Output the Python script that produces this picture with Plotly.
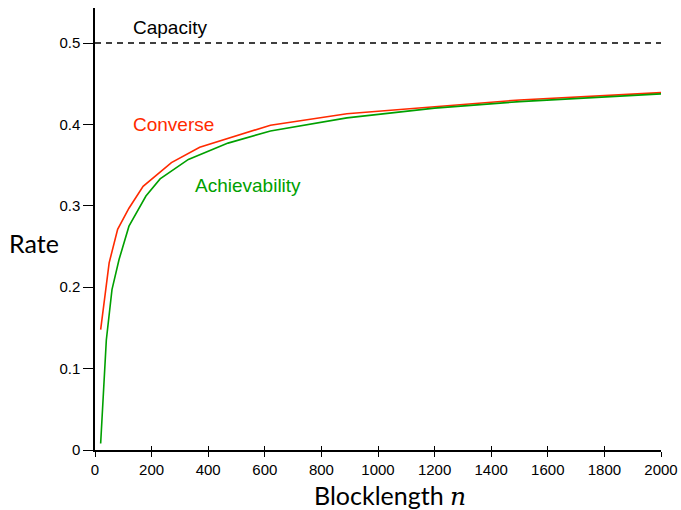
import plotly.graph_objects as go

# Data
n_converse = [20, 50, 80, 120, 170, 270, 370, 620, 890, 1200, 1500, 2000]
rate_converse = [0.148, 0.230, 0.271, 0.297, 0.324, 0.353, 0.372, 0.399, 0.413, 0.422, 0.430, 0.439]

n_achievability = [20, 40, 60, 85, 120, 180, 230, 330, 470, 620, 890, 1200, 1500, 2000]
rate_achievability = [0.008, 0.135, 0.197, 0.234, 0.275, 0.312, 0.333, 0.357, 0.377, 0.392, 0.408, 0.420, 0.428, 0.4375]

capacity_n = [0, 2000]
capacity_rate = [0.5, 0.5]

x_ticks = [0, 200, 400, 600, 800, 1000, 1200, 1400, 1600, 1800, 2000]
y_ticks = [0, 0.1, 0.2, 0.3, 0.4, 0.5]
y_tick_labels = ["0", "0.1", "0.2", "0.3", "0.4", "0.5"]

RED = "#ff2a00"
GREEN = "#00a000"
SANS = "Liberation Sans, Arial, sans-serif"
TICKFONT = dict(family=SANS, size=15, color="black")

W, H = 681, 510
L, R, T, B = 95, 20, 8, 60
PW, PH = W - L - R, H - T - B


def px_x(x):
    return (x - L) / PW


def px_y(y):
    return (H - B - y) / PH


fig = go.Figure()
fig.add_trace(go.Scatter(x=capacity_n, y=capacity_rate, mode="lines",
                         line=dict(color="black", width=1.3, dash="6px,5px"),
                         showlegend=False, hoverinfo="skip"))
fig.add_trace(go.Scatter(x=n_converse, y=rate_converse, mode="lines",
                         line=dict(color=RED, width=1.6), showlegend=False))
fig.add_trace(go.Scatter(x=n_achievability, y=rate_achievability, mode="lines",
                         line=dict(color=GREEN, width=1.6), showlegend=False))
# invisible trace for an overlay axis with inside ticks (x ticks cross the axis)
fig.add_trace(go.Scatter(x=[0], y=[0], xaxis="x2", mode="markers",
                         marker=dict(opacity=0), showlegend=False, hoverinfo="skip"))

fig.update_layout(
    width=W, height=H,
    margin=dict(l=L, r=R, t=T, b=B, autoexpand=False),
    plot_bgcolor="white", paper_bgcolor="white",
    xaxis=dict(range=[0, 2000], tickvals=x_ticks, ticks="outside", ticklen=5,
               tickwidth=1.3, tickcolor="black", showline=True, linecolor="black",
               linewidth=1.5, showgrid=False, zeroline=False, tickfont=TICKFONT,
               automargin=False),
    xaxis2=dict(range=[0, 2000], overlaying="x", matches="x", tickvals=x_ticks,
                ticks="inside", ticklen=4, tickwidth=1.3, tickcolor="black",
                showticklabels=False, showline=False, showgrid=False, zeroline=False,
                side="bottom", anchor="y", automargin=False),
    yaxis=dict(range=[0, 0.543], tickvals=y_ticks, ticktext=y_tick_labels,
               ticks="outside", ticklen=10, tickwidth=1.3, tickcolor="black",
               showline=True, linecolor="black", linewidth=1.5, showgrid=False,
               zeroline=False, tickfont=TICKFONT, automargin=False),
    annotations=[
        dict(text="Capacity", x=px_x(131), y=px_y(28), xref="paper", yref="paper",
             xanchor="left", yanchor="middle", showarrow=False,
             font=dict(family=SANS, size=19, color="black")),
        dict(text="Converse", x=px_x(131), y=px_y(125), xref="paper", yref="paper",
             xanchor="left", yanchor="middle", showarrow=False,
             font=dict(family=SANS, size=19, color=RED)),
        dict(text="Achievability", x=px_x(193), y=px_y(185), xref="paper", yref="paper",
             xanchor="left", yanchor="middle", showarrow=False,
             font=dict(family=SANS, size=19, color=GREEN)),
        dict(text="Rate", x=px_x(34), y=px_y(243), xref="paper", yref="paper",
             xanchor="center", yanchor="middle", showarrow=False,
             font=dict(family="Lato, sans-serif", size=25, color="black")),
        dict(text="Blocklength <span style='font-family:DejaVu Serif'><i>n</i></span>",
             x=px_x(390), y=px_y(495), xref="paper", yref="paper",
             xanchor="center", yanchor="middle", showarrow=False,
             font=dict(family="Lato, sans-serif", size=25, color="black")),
    ],
)

fig.write_html("out.html", config={"displayModeBar": False},
               post_script="document.body.style.margin='0px';document.body.style.overflow='hidden';")
